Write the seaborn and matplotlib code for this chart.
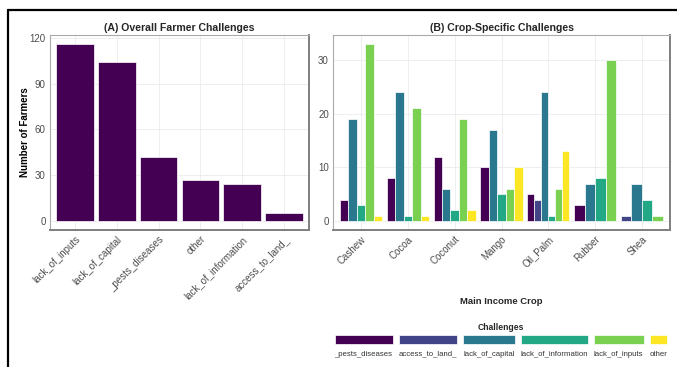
import matplotlib
matplotlib.use("Agg")
import matplotlib.pyplot as plt
from matplotlib.patches import Rectangle
from matplotlib.lines import Line2D
import seaborn as sns
import pandas as pd

# Overall counts per challenge
overall_challenges = ["lack_of_inputs", "lack_of_capital", "_pests_diseases",
                      "other", "lack_of_information", "access_to_land_"]
overall_counts = [116, 104, 42, 27, 24, 5]

# Counts per main income crop
crops = ["Cashew", "Cocoa", "Coconut", "Mango", "Oil_Palm", "Rubber", "Shea"]
challenge_levels = ["_pests_diseases", "access_to_land_", "lack_of_capital",
                    "lack_of_information", "lack_of_inputs", "other"]
pests_diseases = [4, 8, 12, 10, 5, 3, 0]
access_to_land = [0, 0, 0, 0, 4, 0, 1]
lack_of_capital = [19, 24, 6, 17, 24, 7, 7]
lack_of_information = [3, 1, 2, 5, 1, 8, 4]
lack_of_inputs = [33, 21, 19, 6, 6, 30, 1]
other = [1, 1, 2, 10, 13, 0, 0]

series = [pests_diseases, access_to_land, lack_of_capital,
          lack_of_information, lack_of_inputs, other]
rows = []
for lvl, vals in zip(challenge_levels, series):
    for crop, v in zip(crops, vals):
        if v > 0:
            rows.append({"crop": crop, "challenge": lvl, "n": v})
crop_df = pd.DataFrame(rows)
overall_df = pd.DataFrame({"challenge": overall_challenges, "n": overall_counts})

palette = dict(zip(challenge_levels,
                   ["#440154", "#414487", "#2A788E", "#22A884", "#7AD151", "#FDE725"]))

sns.set_theme(style="white")
plt.rcParams["font.family"] = ["Liberation Sans", "DejaVu Sans"]

W, H = 677, 367
fig = plt.figure(figsize=(W / 100, H / 100), dpi=100)


def px_axes(l, t, r, b):
    return fig.add_axes([l / W, 1 - b / H, (r - l) / W, (b - t) / H])


axA = px_axes(50, 35, 309, 230)
axB = px_axes(333, 35, 670, 230)

tick_col = "#4D4D4D"
grid_col = "#EBEBEB"

# Panel A: overall challenges
sns.barplot(data=overall_df, x="challenge", y="n", order=overall_challenges,
            color=palette["_pests_diseases"], saturation=1, width=0.9,
            edgecolor="white", linewidth=0.5, ax=axA)
axA.set_xlim(-0.6, len(overall_challenges) - 0.4)
axA.set_ylim(-5.8, 121.8)
axA.set_yticks([0, 30, 60, 90, 120])

# Panel B: challenges dodged within each crop (only challenges present there)
for crop in crops:
    sub = crop_df[crop_df["crop"] == crop]
    present = [c for c in challenge_levels if c in set(sub["challenge"])]
    sns.barplot(data=sub, x="crop", y="n", hue="challenge", hue_order=present,
                order=crops, palette=[palette[c] for c in present],
                saturation=1, width=0.9, dodge=True, gap=0,
                edgecolor="white", linewidth=0.5, legend=False, ax=axB)
axB.set_xlim(-0.6, len(crops) - 0.4)
axB.set_ylim(-1.65, 34.65)
axB.set_yticks([0, 10, 20, 30])

for ax in (axA, axB):
    ax.grid(True, color=grid_col, linewidth=0.6)
    ax.set_axisbelow(True)
    ax.tick_params(axis="both", length=0, pad=3, labelsize=7, labelcolor=tick_col)
    for lbl in ax.get_xticklabels():
        lbl.set_rotation(45)
        lbl.set_ha("right")
        lbl.set_va("top")
        lbl.set_rotation_mode("anchor")
    for side in ("top", "left"):
        ax.spines[side].set_color("#AAAAAA")
        ax.spines[side].set_linewidth(0.8)
    for side in ("right", "bottom"):
        ax.spines[side].set_color("#7F7F7F")
        ax.spines[side].set_linewidth(1.4)

axA.set_xlabel("")
axA.set_ylabel("Number of Farmers", fontsize=7, fontweight="bold", color="black")
axA.yaxis.set_label_coords(-20 / 259, 0.5)
axA.set_title("(A) Overall Farmer Challenges", fontsize=7.6, fontweight="bold", pad=3)

axB.set_ylabel("")
axB.set_xlabel("")
axB.set_title("(B) Crop-Specific Challenges", fontsize=7.6, fontweight="bold", pad=3)
fig.text(501 / W, 1 - 302 / H, "Main Income Crop", fontsize=6.8, fontweight="bold",
         ha="center", va="center")

# Legend: keys sized to their labels, laid out in one centred row
fig.text(501 / W, 1 - 327 / H, "Challenges", fontsize=6.2, fontweight="bold",
         ha="center", va="center")
renderer = fig.canvas.get_renderer()
labels = []
widths = []
for lvl in challenge_levels:
    t = fig.text(0, 1 - 354 / H, lvl, fontsize=5.6, color="#333333",
                 ha="left", va="center")
    labels.append(t)
    widths.append(t.get_window_extent(renderer).width)
gap = 6
total = sum(widths) + gap * (len(widths) - 1)
x = 501 - total / 2
for lvl, t, w in zip(challenge_levels, labels, widths):
    t.set_x(x / W)
    fig.patches.append(Rectangle((x / W, 1 - 344 / H), w / W, 9 / H,
                                 transform=fig.transFigure, facecolor=palette[lvl],
                                 edgecolor="white", linewidth=0.5))
    x += w + gap

# Outer frame lines
fig.lines.append(Line2D([8 / W, 1], [1 - 10 / H, 1 - 10 / H], transform=fig.transFigure,
                        color="black", linewidth=1.6))
fig.lines.append(Line2D([8 / W, 8 / W], [1 - 10 / H, 0], transform=fig.transFigure,
                        color="black", linewidth=1.6))

fig.savefig("out.png", dpi=100, facecolor="white")
